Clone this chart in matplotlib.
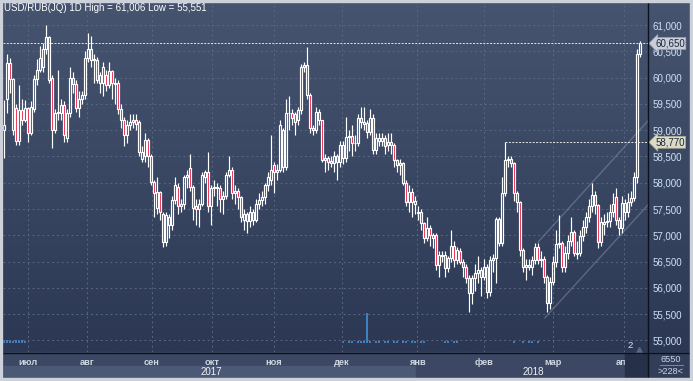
import numpy as np
import matplotlib
matplotlib.use('Agg')
import matplotlib.pyplot as plt
from matplotlib.colors import LinearSegmentedColormap
from matplotlib.patches import Rectangle
import matplotlib.transforms as mtransforms

plt.rcParams['font.family'] = ['Liberation Sans', 'DejaVu Sans']

# ---------------- data ----------------
title = "USD/RUB(JQ) 1D High = 61,006 Low = 55,551"

opens = [59.0, 59.6, 60.27, 59.97, 59.42, 58.8, 59.38, 59.2, 59.42, 58.95,
         59.4, 59.97, 60.14, 60.2, 60.55, 60.77, 60.0, 59.0, 59.32, 59.33,
         59.48, 58.85, 59.33, 60.0, 59.88, 59.42, 59.6, 59.67, 60.37, 60.55,
         60.33, 60.33, 59.9, 59.9, 60.05, 59.86, 60.12, 59.88, 59.9, 59.4,
         59.2, 58.9, 59.1, 59.15, 59.2, 59.15, 58.45, 58.5, 58.81, 58.5,
         58.02, 57.52, 57.82, 57.4, 56.87, 57.35, 57.2, 57.67, 57.92, 57.56,
         57.6, 58.1, 58.28, 57.92, 57.55, 57.5, 57.6, 58.1, 58.2, 57.55,
         57.9, 57.92, 57.9, 57.7, 57.75, 58.15, 58.25, 57.8, 57.85, 57.72,
         57.3, 57.4, 57.28, 57.45, 57.3, 57.6, 57.68, 57.72, 57.95, 58.05,
         58.34, 58.2, 58.25, 59.0, 58.3, 59.32, 59.33, 59.3, 59.2, 59.38,
         60.2, 60.24, 59.67, 59.05, 59.0, 59.34, 59.19, 58.43, 58.47, 58.42,
         58.38, 58.5, 58.4, 58.72, 58.47, 58.87, 58.88, 58.76, 58.75, 59.23,
         59.12, 59.14, 58.97, 59.23, 58.62, 58.86, 58.8, 58.85, 58.72, 58.78,
         58.72, 58.43, 58.34, 58.37, 58.0, 57.64, 57.83, 57.6, 57.42, 57.45,
         57.23, 56.95, 57.14, 57.0, 57.0, 56.44, 56.6, 56.63, 56.38, 56.56,
         56.8, 56.53, 56.7, 56.5, 56.4, 56.19, 55.9, 56.19, 56.28, 56.34,
         56.2, 56.4, 55.92, 56.53, 56.57, 57.32, 56.85, 57.8, 58.43, 58.45,
         58.38, 57.8, 57.63, 56.72, 56.4, 56.44, 56.4, 56.53, 56.78, 56.53,
         56.55, 56.2, 55.71, 56.11, 56.5, 56.84, 56.85, 56.4, 56.66, 56.9,
         57.06, 56.64, 56.67, 56.98, 57.15, 57.35, 57.55, 57.77, 57.58, 56.87,
         57.22, 57.25, 57.28, 57.44, 57.73, 57.29, 57.14, 57.61, 57.44, 57.63,
         57.71, 58.1, 60.45]

highs = [59.57, 60.45, 60.37, 60.0, 59.5, 59.86, 59.6, 59.57, 59.45, 59.55,
         60.05, 60.35, 60.6, 60.65, 61.006, 60.8, 60.05, 59.4, 60.14, 59.6,
         59.55, 59.4, 60.2, 60.1, 59.95, 59.75, 59.75, 60.5, 60.85, 60.8,
         60.45, 60.4, 60.1, 60.3, 60.15, 60.3, 60.15, 60.0, 59.95, 59.5,
         59.25, 59.2, 59.3, 59.3, 59.3, 59.2, 58.7, 58.95, 58.85, 58.55,
         58.05, 58.1, 57.85, 57.45, 57.45, 57.4, 57.75, 58.1, 58.0, 57.7,
         58.15, 58.25, 58.55, 57.95, 57.7, 57.7, 58.2, 58.25, 58.58, 57.95,
         58.05, 58.0, 57.95, 57.85, 58.2, 58.5, 58.3, 57.95, 57.9, 57.75,
         57.5, 57.45, 57.55, 57.5, 57.7, 57.8, 57.85, 58.0, 58.2, 58.9,
         58.4, 58.35, 59.2, 59.05, 59.6, 59.65, 59.4, 59.35, 59.45, 60.25,
         60.3, 60.58, 59.7, 59.1, 59.45, 59.4, 59.2, 58.55, 58.5, 58.5,
         58.6, 58.55, 58.8, 58.8, 59.25, 59.0, 59.1, 58.9, 59.3, 59.45,
         59.45, 59.2, 59.4, 59.3, 58.95, 58.95, 58.95, 58.9, 58.95, 58.95,
         58.75, 58.45, 58.45, 58.4, 58.05, 57.95, 57.9, 57.75, 57.55, 57.5,
         57.25, 57.35, 57.2, 57.05, 57.05, 56.7, 56.7, 56.7, 56.6, 57.1,
         56.9, 56.78, 56.75, 56.55, 56.45, 56.25, 56.25, 56.45, 56.6, 56.4,
         56.55, 56.45, 56.6, 56.65, 57.35, 57.35, 58.1, 58.77, 58.5, 58.5,
         58.4, 57.85, 57.65, 56.75, 56.55, 56.55, 56.6, 56.85, 56.85, 56.7,
         56.6, 56.25, 56.2, 56.6, 57.1, 57.39, 56.9, 56.8, 57.0, 57.35,
         57.1, 56.9, 57.1, 57.3, 57.45, 57.7, 58.0, 57.85, 57.6, 57.35,
         57.4, 57.45, 57.6, 57.8, 57.9, 57.35, 57.75, 57.7, 57.8, 57.85,
         58.2, 60.55, 60.7]

lows = [58.47, 59.33, 59.7, 58.9, 58.72, 58.72, 59.1, 59.15, 58.78, 58.9,
        59.35, 59.85, 60.1, 60.1, 60.45, 59.9, 58.66, 58.95, 59.2, 59.2,
        58.78, 58.78, 59.25, 59.7, 59.35, 59.25, 59.5, 59.6, 60.3, 60.2,
        59.9, 59.9, 59.7, 59.65, 59.75, 59.8, 59.6, 59.5, 59.3, 59.05,
        58.7, 58.75, 59.0, 59.05, 59.0, 58.5, 58.4, 58.4, 58.3, 57.95,
        57.35, 57.4, 57.3, 56.78, 56.8, 56.95, 57.1, 57.6, 57.4, 57.45,
        57.5, 57.9, 57.85, 57.3, 57.2, 57.15, 57.55, 58.0, 57.45, 57.2,
        57.75, 57.55, 57.45, 57.4, 57.7, 58.1, 57.7, 57.6, 57.5, 57.25,
        57.1, 57.05, 57.15, 57.2, 57.25, 57.5, 57.55, 57.6, 57.85, 57.95,
        57.8, 58.05, 58.2, 58.2, 58.25, 59.0, 59.1, 58.9, 59.1, 59.3,
        60.1, 59.6, 58.95, 58.9, 58.95, 59.1, 58.4, 58.2, 58.25, 58.3,
        58.2, 58.05, 58.3, 58.35, 58.4, 58.6, 58.5, 58.6, 58.7, 59.05,
        59.0, 58.85, 58.9, 58.55, 58.55, 58.7, 58.7, 58.55, 58.6, 58.55,
        58.3, 58.2, 58.15, 57.95, 57.55, 57.45, 57.35, 57.4, 57.3, 57.1,
        56.85, 56.9, 56.8, 56.75, 56.35, 56.2, 56.5, 56.2, 56.3, 56.5,
        56.4, 56.45, 56.45, 56.2, 56.1, 55.551, 55.7, 55.95, 56.1, 55.85,
        56.15, 55.8, 55.85, 56.3, 56.1, 56.8, 56.8, 57.75, 58.3, 58.3,
        57.65, 57.45, 56.6, 56.3, 56.15, 56.35, 56.25, 56.45, 56.45, 56.4,
        56.1, 55.54, 55.6, 56.05, 56.4, 56.75, 56.3, 56.3, 56.55, 56.8,
        56.6, 56.55, 56.6, 56.9, 57.05, 57.25, 57.45, 57.4, 56.75, 56.8,
        57.0, 57.15, 57.15, 57.35, 57.2, 57.0, 57.05, 57.3, 57.35, 57.55,
        57.65, 58.0, 60.4]

closes = [59.1, 60.27, 59.97, 59.0, 58.8, 59.38, 59.2, 59.42, 58.95, 59.45,
          59.97, 60.14, 60.37, 60.55, 60.77, 59.96, 59.0, 59.32, 59.35, 59.48,
          58.9, 59.33, 60.0, 59.88, 59.42, 59.6, 59.67, 60.37, 60.55, 60.33,
          60.35, 59.96, 60.05, 60.2, 59.86, 60.12, 59.9, 59.9, 59.4, 59.2,
          58.9, 59.1, 59.15, 59.2, 59.12, 58.58, 58.58, 58.81, 58.5, 58.02,
          57.8, 57.82, 57.45, 56.87, 57.39, 57.2, 57.67, 57.96, 57.56, 57.6,
          58.1, 58.15, 57.92, 57.52, 57.5, 57.6, 58.15, 58.2, 57.55, 57.9,
          57.92, 57.9, 57.7, 57.75, 58.15, 58.25, 57.8, 57.85, 57.72, 57.35,
          57.4, 57.28, 57.45, 57.3, 57.6, 57.68, 57.72, 57.95, 58.1, 58.25,
          58.2, 58.25, 59.1, 58.3, 59.32, 59.33, 59.24, 59.15, 59.38, 60.2,
          60.24, 59.67, 59.05, 59.0, 59.34, 59.19, 58.43, 58.47, 58.4, 58.38,
          58.5, 58.4, 58.72, 58.47, 58.87, 58.88, 58.76, 58.75, 59.23, 59.15,
          59.16, 58.97, 59.23, 58.62, 58.86, 58.8, 58.85, 58.7, 58.78, 58.72,
          58.43, 58.34, 58.37, 58.0, 57.64, 57.83, 57.64, 57.66, 57.45, 57.23,
          56.95, 57.14, 57.0, 56.95, 56.44, 56.62, 56.63, 56.38, 56.56, 56.8,
          56.53, 56.72, 56.5, 56.4, 56.19, 55.9, 56.19, 56.28, 56.34, 56.2,
          56.4, 55.92, 56.53, 56.57, 57.32, 56.85, 57.8, 58.43, 58.45, 58.38,
          57.8, 57.63, 56.72, 56.4, 56.44, 56.4, 56.53, 56.78, 56.53, 56.55,
          56.2, 55.71, 56.11, 56.5, 56.84, 56.85, 56.4, 56.66, 56.9, 57.06,
          56.66, 56.67, 56.98, 57.15, 57.35, 57.55, 57.77, 57.58, 56.87, 57.25,
          57.25, 57.28, 57.44, 57.6, 57.29, 57.14, 57.61, 57.44, 57.63, 57.71,
          58.1, 60.45, 60.65]

month_labels = ['июл', 'авг', 'сен', 'окт', 'ноя', 'дек', 'янв', 'фев', 'мар', 'апр']
month_pos = [8, 27.7, 49.3, 69.3, 90, 112.7, 137.7, 160, 183, 206.7]
years = ['2017', '2018']

vol_idx = [0, 1, 2, 3, 4, 5, 6, 7, 113, 115, 116, 118, 119, 120, 121, 122, 124,
           125, 127, 128, 130, 131, 133, 134, 136, 137, 139, 140, 147, 148, 150,
           151, 170, 173, 175, 176, 178]
vol_val = [600, 550, 600, 500, 600, 550, 600, 500, 450, 500, 450, 500, 450, 500,
           6550, 500, 450, 500, 500, 450, 500, 450, 500, 450, 500, 450, 500, 450,
           500, 450, 500, 450, 450, 500, 450, 500, 450]

last_price = 60.65
level_price = 58.77
level_start = 167
chan_upper_x = [178, 214.7]
chan_upper_y = [56.87, 59.18]
chan_lower_x = [180.3, 214.7]
chan_lower_y = [55.43, 57.58]

# ---------------- figure ----------------
W, H = 693, 381
fig = plt.figure(figsize=(W / 100, H / 100), dpi=100)

bg = fig.add_axes([0, 0, 1, 1])
grad = np.linspace(0, 1, 256).reshape(-1, 1)
cmap = LinearSegmentedColormap.from_list('g', ['#47546f', '#3a4763', '#2b3753'])
bg.imshow(grad, extent=(0, W, 352, 0), cmap=cmap, aspect='auto', zorder=0)
bg.add_patch(Rectangle((2, 352), 646, 14, color='#3b4763', zorder=1))
bg.add_patch(Rectangle((2, 366), 414, 12, color='#4b5876', zorder=1))
bg.add_patch(Rectangle((416, 366), 232, 12, color='#3b4763', zorder=1))
bg.add_patch(Rectangle((648, 352), 42, 26, color='#323e59', zorder=1))
bg.set_xlim(0, W)
bg.set_ylim(H, 0)
bg.axis('off')

rect = [2.5 / W, (H - 352) / H, (648 - 2.5) / W, 350 / H]

# volume axes (behind the price axes)
axv = fig.add_axes(rect)
axv.set_facecolor('none')
axv.bar(vol_idx, vol_val, width=0.6, color='#3f80c2')
axv.set_xlim(-0.5, 214.67)
axv.set_ylim(-1965, 74450)
axv.axis('off')

ax = fig.add_axes(rect)
ax.set_facecolor('none')
for s in ax.spines.values():
    s.set_visible(False)

o = np.array(opens)
c = np.array(closes)
h = np.array(highs)
l = np.array(lows)
x = np.arange(len(c))
up = c >= o
blo = np.minimum(o, c)
bhi = np.maximum(o, c)
bh = np.maximum(bhi - blo, 0.015)

ax.vlines(x, l, blo, color='white', lw=0.85, zorder=3)
ax.vlines(x, bhi, h, color='white', lw=0.85, zorder=3)
ax.bar(x[up], bh[up], bottom=blo[up], width=0.64, facecolor='none',
       edgecolor='white', lw=0.85, zorder=4)
ax.bar(x[~up], bh[~up], bottom=blo[~up], width=0.64, facecolor='#e8143c',
       edgecolor='white', lw=0.85, zorder=4)

# channel
ax.plot(chan_upper_x, chan_upper_y, color='#8f9bb3', lw=1.0, alpha=0.45, zorder=2)
ax.plot(chan_lower_x, chan_lower_y, color='#8f9bb3', lw=1.0, alpha=0.45, zorder=2)

# price lines
ax.axhline(last_price, color='#e6e6e6', ls=(0, (2, 1.5)), lw=0.7, zorder=5)
ax.hlines(level_price, level_start, 214.7, color='#e6e6e6', ls=(0, (2, 1.5)),
          lw=0.7, zorder=5)

ax.set_xlim(-0.5, 214.67)
ax.set_ylim(54.781, 61.438)

ax.set_yticks(np.arange(55.0, 61.01, 0.5))
ax.yaxis.set_major_formatter(plt.FuncFormatter(lambda v, p: f"{v:.3f}".replace('.', ',')))
ax.yaxis.tick_right()
ax.tick_params(axis='y', length=0, pad=3.0, labelsize=7.0, labelcolor='#cfe0f5')
ax.set_xticks(month_pos)
ax.set_xticklabels(month_labels, fontweight='bold')
ax.tick_params(axis='x', length=0, pad=4.3, labelsize=6.7, labelcolor='#d0d7e2')
ax.grid(True, color='#5a6783', ls=(0, (2, 3)), lw=0.7)
ax.set_axisbelow(True)

blend = mtransforms.blended_transform_factory(ax.transAxes, ax.transData)
ax.text(1.011, last_price, f"{last_price:.3f}".replace('.', ','), transform=blend,
        ha='left', va='center', fontsize=7.0, color='#1c2838', clip_on=False, zorder=10,
        bbox=dict(boxstyle='larrow,pad=0.1', fc='#c9ced9', ec='#9aa2b2', lw=0.5))
ax.text(1.011, level_price, f"{level_price:.3f}".replace('.', ','), transform=blend,
        ha='left', va='center', fontsize=7.0, color='#1c2838', clip_on=False, zorder=10,
        bbox=dict(boxstyle='larrow,pad=0.1', fc='#dcdcc6', ec='#a8a890', lw=0.5))

# overlay
ov = fig.add_axes([0, 0, 1, 1])
ov.set_facecolor('none')
ov.set_xlim(0, W)
ov.set_ylim(H, 0)
ov.axis('off')
ov.add_patch(Rectangle((625, 353), 23, 25, color='#263049', zorder=1))
ov.plot([639], [349.5], marker='^', ms=5, color='#5b6781', zorder=2)
ov.text(630, 346, '2', ha='center', va='center', fontsize=6.8, color='#e2e6ee')
ov.text(4, 8, title, ha='left', va='center', fontsize=7.0, color='white')
ov.text(211, 372, years[0], ha='center', va='center', fontsize=7.0, color='#f0f2f6')
ov.text(533, 372, years[1], ha='center', va='center', fontsize=7.0, color='#f0f2f6')
ov.text(671, 359.5, '6550', ha='center', va='center', fontsize=6.6, color='#c8d4e6')
ov.plot([660, 683], [365, 365], color='#8a96ac', lw=0.6)
ov.text(671, 372, '>228<', ha='center', va='center', fontsize=6.6, color='#c8d4e6')
# frame lines
ov.plot([648, 648], [2, 378], color='#0c121c', lw=1.0)
ov.plot([2, 690], [352.5, 352.5], color='#0c121c', lw=1.0)
ov.plot([2, 2], [2, 378], color='#0c121c', lw=1.0)
for r in [(0, 0, W, 1.8), (0, 0, 1.5, H), (690, 0, 3, H), (0, 378, W, 3)]:
    ov.add_patch(Rectangle((r[0], r[1]), r[2], r[3], color='#cdd2da', zorder=5))

fig.savefig('out.png', dpi=100)
